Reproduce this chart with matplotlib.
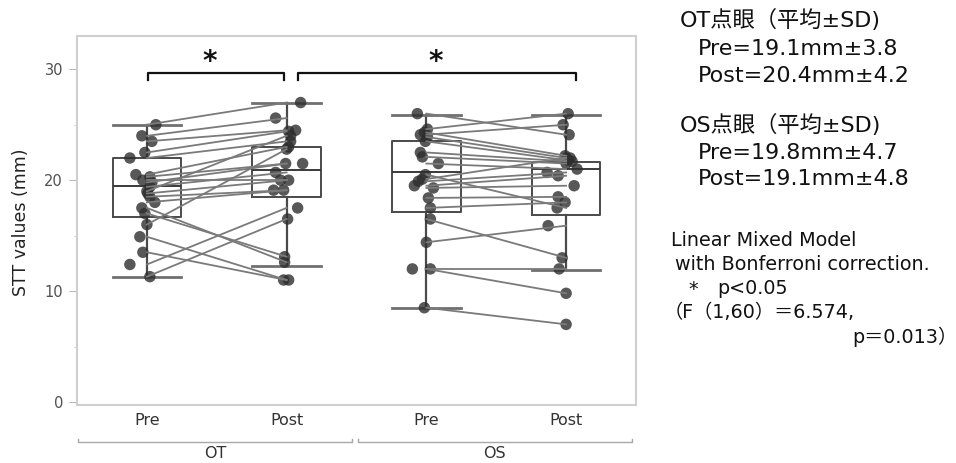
import matplotlib
matplotlib.use("Agg")
import matplotlib.pyplot as plt
import matplotlib.transforms as mtransforms
import numpy as np

plt.rcParams['font.family'] = ['DejaVu Sans', 'Noto Sans CJK JP']

# ---------------- data ----------------
categories = ["Pre", "Post", "Pre", "Post"]
groups = ["OT", "OS"]

ot_pre = [25.0, 24.0, 23.5, 22.5, 22.0, 20.5, 20.3, 19.8, 19.4, 18.8, 18.5,
          18.0, 17.5, 17.0, 16.0, 14.9, 13.5, 12.4, 11.3, 20.0, 19.0]
ot_post = [27.0, 25.6, 24.5, 24.4, 23.5, 23.0, 21.5, 21.5, 20.7, 20.0, 19.1,
           19.1, 12.6, 13.1, 22.8, 11.0, 11.0, 17.5, 16.5, 20.0, 24.0]
os_pre = [26.0, 24.6, 24.1, 23.9, 22.5, 22.1, 21.5, 20.1, 19.9, 19.5, 19.3,
          18.4, 17.5, 16.5, 14.4, 12.0, 12.0, 8.5, 23.5, 20.5, 24.3]
os_post = [24.1, 26.0, 25.0, 22.0, 21.7, 21.5, 21.0, 22.0, 20.7, 20.4, 19.5,
           18.5, 18.0, 13.0, 15.9, 12.0, 9.8, 7.0, 21.8, 17.5, 22.2]

# box statistics (whisker low, Q1, median, Q3, whisker high)
box_low = [11.3, 12.3, 8.5, 11.9]
box_q1 = [16.7, 18.5, 17.1, 16.9]
box_med = [19.5, 20.9, 20.7, 21.0]
box_q3 = [22.0, 23.0, 23.5, 21.6]
box_high = [25.0, 27.0, 25.9, 25.9]

# horizontal jitter of the dots (pixels)
jit_ot_pre = [9, -5, 5, -2, -17, -11, 3, 5, 3, 1, 3, 8, -5, -2, 0, -7, -4, -17, 3, -4, 0]
jit_ot_post = [14, -11, 9, 2, 4, 2, -1, 16, -11, 2, -13, -3, -2, -2, 0, -3, 2, 11, 1, -6, 4]
jit_os_pre = [-9, 1, -6, 1, -6, -4, 12, -4, -8, -12, 7, 2, 4, 4, 0, 4, -14, -2, -1, -1, -2]
jit_os_post = [3, 2, -3, 4, 6, 0, 11, 0, -19, -8, 8, -8, -1, -4, -18, -7, 0, 0, 2, -9, -1]

right_text_top = ["OT点眼（平均±SD)", "Pre=19.1mm±3.8", "Post=20.4mm±4.2",
                  "OS点眼（平均±SD)", "Pre=19.8mm±4.7", "Post=19.1mm±4.8"]
right_text_bottom = ["Linear Mixed Model", "with Bonferroni correction.",
                     "*", "p<0.05", "（F（1,60）＝6.574,", "p＝0.013）"]

# ---------------- figure ----------------
W, H = 956, 463
fig = plt.figure(figsize=(W / 100, H / 100), dpi=100)
ax = fig.add_axes([77 / W, 1 - 405 / H, (636 - 77) / W, (405 - 36) / H])
ax.set_xlim(-0.5, 3.5)
ax.set_ylim(-0.27, 33)

positions = [0, 1, 2, 3]
stats = []
for i in range(4):
    stats.append(dict(whislo=box_low[i], q1=box_q1[i], med=box_med[i],
                      q3=box_q3[i], whishi=box_high[i], fliers=[]))
ax.bxp(stats, positions=positions, widths=0.49, showfliers=False,
       capwidths=0.49,
       boxprops=dict(color="#4a4a4a", linewidth=1.4),
       medianprops=dict(color="#3a3a3a", linewidth=1.4),
       whiskerprops=dict(color="#4a4a4a", linewidth=1.6),
       capprops=dict(color="#707070", linewidth=2.0),
       manage_ticks=False, zorder=2)

px_unit = 139.75
pairs = [(ot_pre, ot_post, jit_ot_pre, jit_ot_post, 0),
         (os_pre, os_post, jit_os_pre, jit_os_post, 2)]
for pre, post, jpre, jpost, base in pairs:
    pre = np.array(pre)
    post = np.array(post)
    xpre = base + np.array(jpre) / px_unit
    xpost = base + 1 + np.array(jpost) / px_unit
    ax.scatter(xpre, pre, s=68, color="#2e2e2e", alpha=0.8, edgecolors="none", zorder=3)
    ax.scatter(xpost, post, s=68, color="#2e2e2e", alpha=0.8, edgecolors="none", zorder=3)
    for a, b in zip(pre, post):
        ax.plot([base, base + 1], [a, b], color="#7a7a7a", lw=1.3, zorder=4)

# axes styling
for sp in ax.spines.values():
    sp.set_color("#cfcfcf")
    sp.set_linewidth(1.5)
ax.set_yticks([0, 10, 20, 30])
ax.set_yticks([5, 15, 25], minor=True)
ax.tick_params(axis="y", which="major", length=6, color="#b8b8b8",
               labelcolor="#505050", labelsize=10.5, pad=4)
ax.tick_params(axis="y", which="minor", length=2, color="#c8c8c8")
ax.set_xticks(positions)
ax.set_xticklabels(categories)
ax.tick_params(axis="x", length=0, labelsize=11.5, labelcolor="#333333", pad=6)
ax.set_ylabel("STT values (mm)", fontsize=12.5, color="#222222")
ax.yaxis.set_label_coords(-0.084, 0.496)

# group axis
trans = mtransforms.blended_transform_factory(ax.transData, ax.transAxes)
gy = (405 - 442) / (405 - 36)
for x0, x1, name in [(-0.49, 1.47, groups[0]), (1.51, 3.47, groups[1])]:
    ax.plot([x0, x0, x1, x1], [gy + 0.008, gy, gy, gy + 0.008], transform=trans,
            color="#a8a8a8", lw=1.0, clip_on=False)
    ax.text((x0 + x1) / 2, gy - 0.012, name, transform=trans, ha="center", va="top",
            fontsize=11.5, color="#333333")

# significance brackets
y_br, y_tip = 29.65, 29.0
for x0, x1, xs in [(0.01, 0.98, 0.45), (1.08, 3.07, 2.07)]:
    ax.plot([x0, x0, x1, x1], [y_tip, y_br, y_br, y_tip], color="#111111", lw=1.6,
            clip_on=False, zorder=5)
    ax.text(xs, 29.35, "*", ha="center", va="bottom", fontsize=20, fontweight="bold",
            color="#111111")

# right-hand annotations
top_x = [680, 698, 698, 680, 698, 698]
top_y = [20, 49, 76, 125, 153, 179]
for t, x, y in zip(right_text_top, top_x, top_y):
    fig.text(x / W, 1 - y / H, t, ha="left", va="center", fontsize=16, color="#111111")
bot_x = [671, 675, 688, 717, 664, 852]
bot_y = [241, 265, 289, 289, 313, 337]
for t, x, y in zip(right_text_bottom, bot_x, bot_y):
    fig.text(x / W, 1 - y / H, t, ha="left", va="center", fontsize=13.8, color="#111111")

fig.savefig("out.png", dpi=100)
